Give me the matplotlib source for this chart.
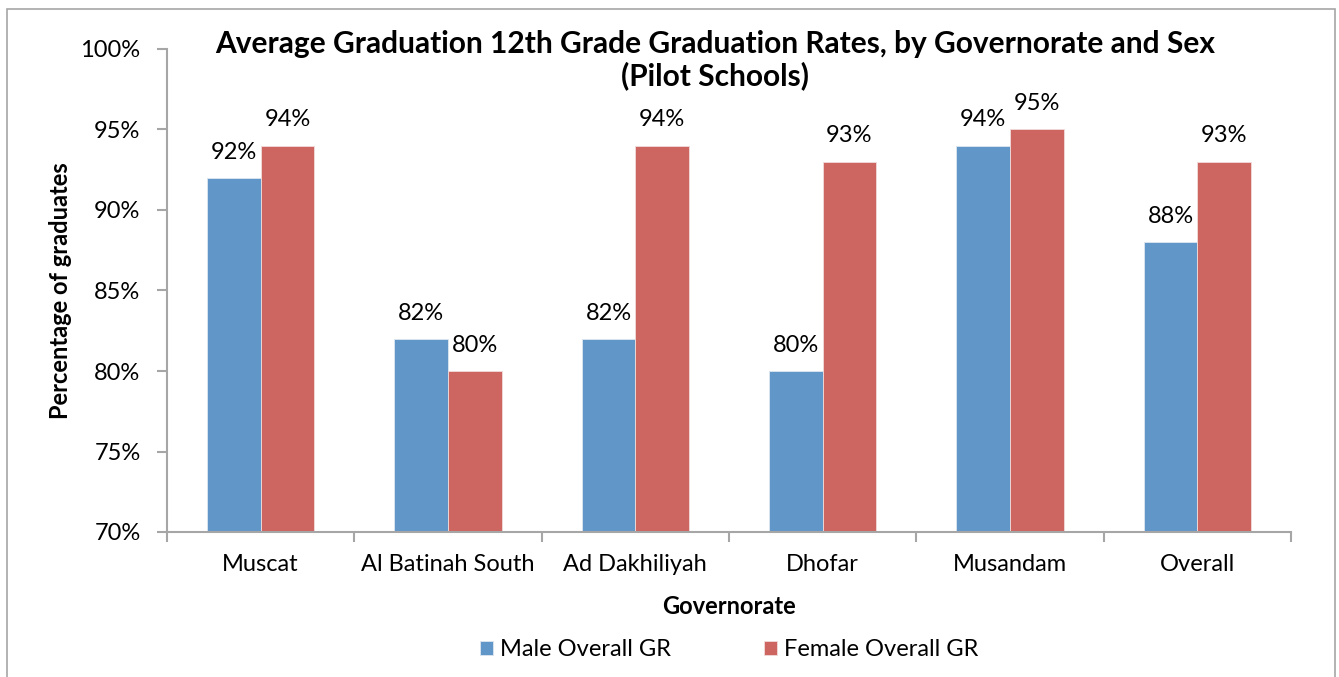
import matplotlib
matplotlib.use("Agg")
import matplotlib.pyplot as plt
from matplotlib.patches import Rectangle
import numpy as np

categories = ["Muscat", "Al Batinah South", "Ad Dakhiliyah", "Dhofar", "Musandam", "Overall"]
male = [92, 82, 82, 80, 94, 88]
female = [94, 80, 94, 93, 95, 93]
series_names = ["Male Overall GR", "Female Overall GR"]
yticks = [70, 75, 80, 85, 90, 95, 100]

plt.rcParams['font.family'] = ['Lato', 'DejaVu Sans']

fig = plt.figure(figsize=(13.39, 6.77), dpi=100)
ax = fig.add_axes([167/1339, 1-532/677, (1291-167)/1339, (532-49)/677])

blue = '#6196C9'
red = '#CD6560'
FS = 17
w = 1/3.5
x = np.arange(len(categories)) + 0.5
b1 = ax.bar(x - w/2, male, w, color=blue, edgecolor='#DDE6F0', linewidth=0.6, label=series_names[0])
b2 = ax.bar(x + w/2, female, w, color=red, edgecolor='#F0DDDC', linewidth=0.6, label=series_names[1])

for bars, vals in ((b1, male), (b2, female)):
    for r, v in zip(bars, vals):
        ax.annotate(f"{v}%", (r.get_x() + r.get_width()/2, v), xytext=(0, 11),
                    textcoords='offset points', ha='center', va='bottom', fontsize=FS)

ax.set_ylim(70, 100)
ax.set_xlim(0, len(categories))
ax.set_yticks(yticks)
ax.set_yticklabels([f"{t}%" for t in yticks], fontsize=FS)
ax.set_xticks(np.arange(len(categories) + 1))
ax.set_xticklabels([])
ax.set_xticks(x, minor=True)
ax.set_xticklabels(categories, minor=True, fontsize=FS)
ax.tick_params(axis='x', which='minor', length=0, pad=16)
ax.tick_params(axis='x', which='major', length=7, width=1.5, color='#A6A6A6', direction='out')
ax.tick_params(axis='y', length=7, width=1.5, color='#A6A6A6', direction='out', pad=12)
for s in ('top', 'right'):
    ax.spines[s].set_visible(False)
for s in ('left', 'bottom'):
    ax.spines[s].set_color('#A6A6A6')
    ax.spines[s].set_linewidth(1.5)

ax.set_ylabel("Percentage of graduates", fontsize=FS, fontweight='bold', labelpad=6)
ax.set_xlabel("Governorate", fontsize=FS, fontweight='bold', labelpad=14)

fig.text(715/1339, 1-60/677, "Average Graduation 12th Grade Graduation Rates, by Governorate and Sex\n(Pilot Schools)",
         ha='center', va='center', fontsize=21.5, fontweight='bold', linespacing=1.15)

leg = fig.legend(handles=[b1, b2], labels=series_names, loc='center', bbox_to_anchor=(729/1339, 1-650/677),
                 ncol=2, frameon=False, fontsize=FS, handlelength=0.55, handleheight=0.55,
                 columnspacing=3.95, handletextpad=0.3)

fig.patches.append(Rectangle((7/1339, -0.1), (1335-7)/1339, 1.1 - 9/677, transform=fig.transFigure,
                             fill=False, edgecolor='#A6A6A6', linewidth=1.2))

fig.savefig("out.png", dpi=100)
